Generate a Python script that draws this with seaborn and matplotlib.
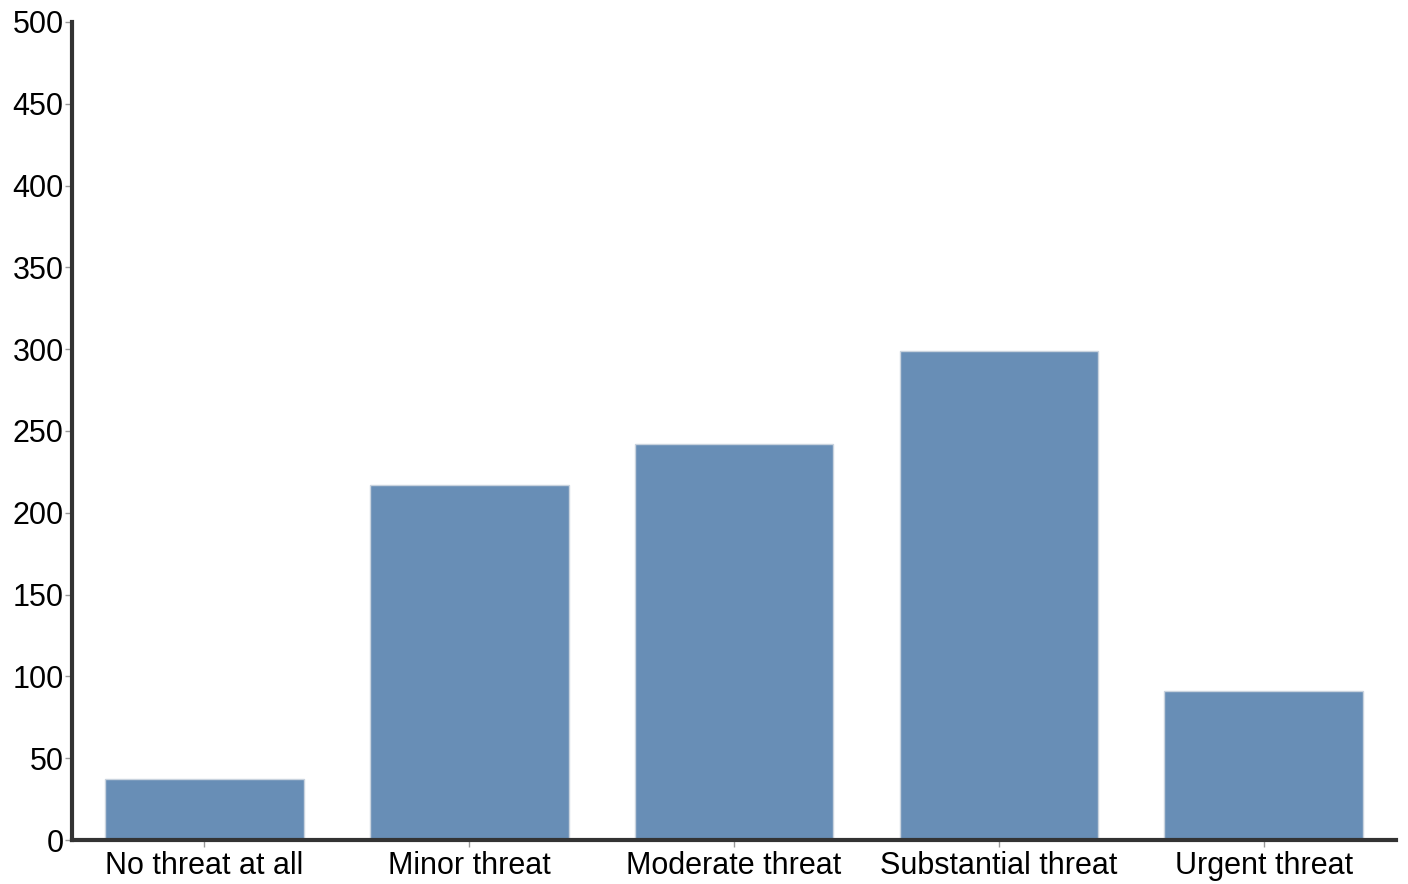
import matplotlib
matplotlib.use('Agg')
import matplotlib.pyplot as plt
import pandas as pd
import seaborn as sns

# Data
categories = ['No threat at all', 'Minor threat', 'Moderate threat', 'Substantial threat', 'Urgent threat']
counts = [37, 217, 242, 299, 91]
y_ticks = [0, 50, 100, 150, 200, 250, 300, 350, 400, 450, 500]

df = pd.DataFrame({'category': categories, 'count': counts})

sns.set_style('white')
plt.rcParams['font.family'] = ['Liberation Sans', 'DejaVu Sans']

fig = plt.figure(figsize=(14.08, 8.84), dpi=100)
ax = fig.add_axes([72 / 1408, 1 - 840 / 884, (1396 - 72) / 1408, (840 - 22) / 884])

sns.barplot(data=df, x='category', y='count', color='#688eb6', saturation=1,
            width=0.75, edgecolor='#c9d3de', linewidth=1, ax=ax)

ax.set_xlim(-0.5, 4.5)
ax.set_ylim(0, 500)
ax.set_yticks(y_ticks)
ax.set(xlabel='', ylabel='')
sns.despine(ax=ax)
for side in ['left', 'bottom']:
    ax.spines[side].set_color('#333333')
    ax.spines[side].set_linewidth(3)
ax.tick_params(axis='both', which='major', direction='out', length=5, width=1,
               color='#999999', labelsize=22, labelcolor='black',
               bottom=True, left=True)
ax.tick_params(axis='x', pad=3)
ax.tick_params(axis='y', pad=1)

fig.savefig('out.png', dpi=100)
